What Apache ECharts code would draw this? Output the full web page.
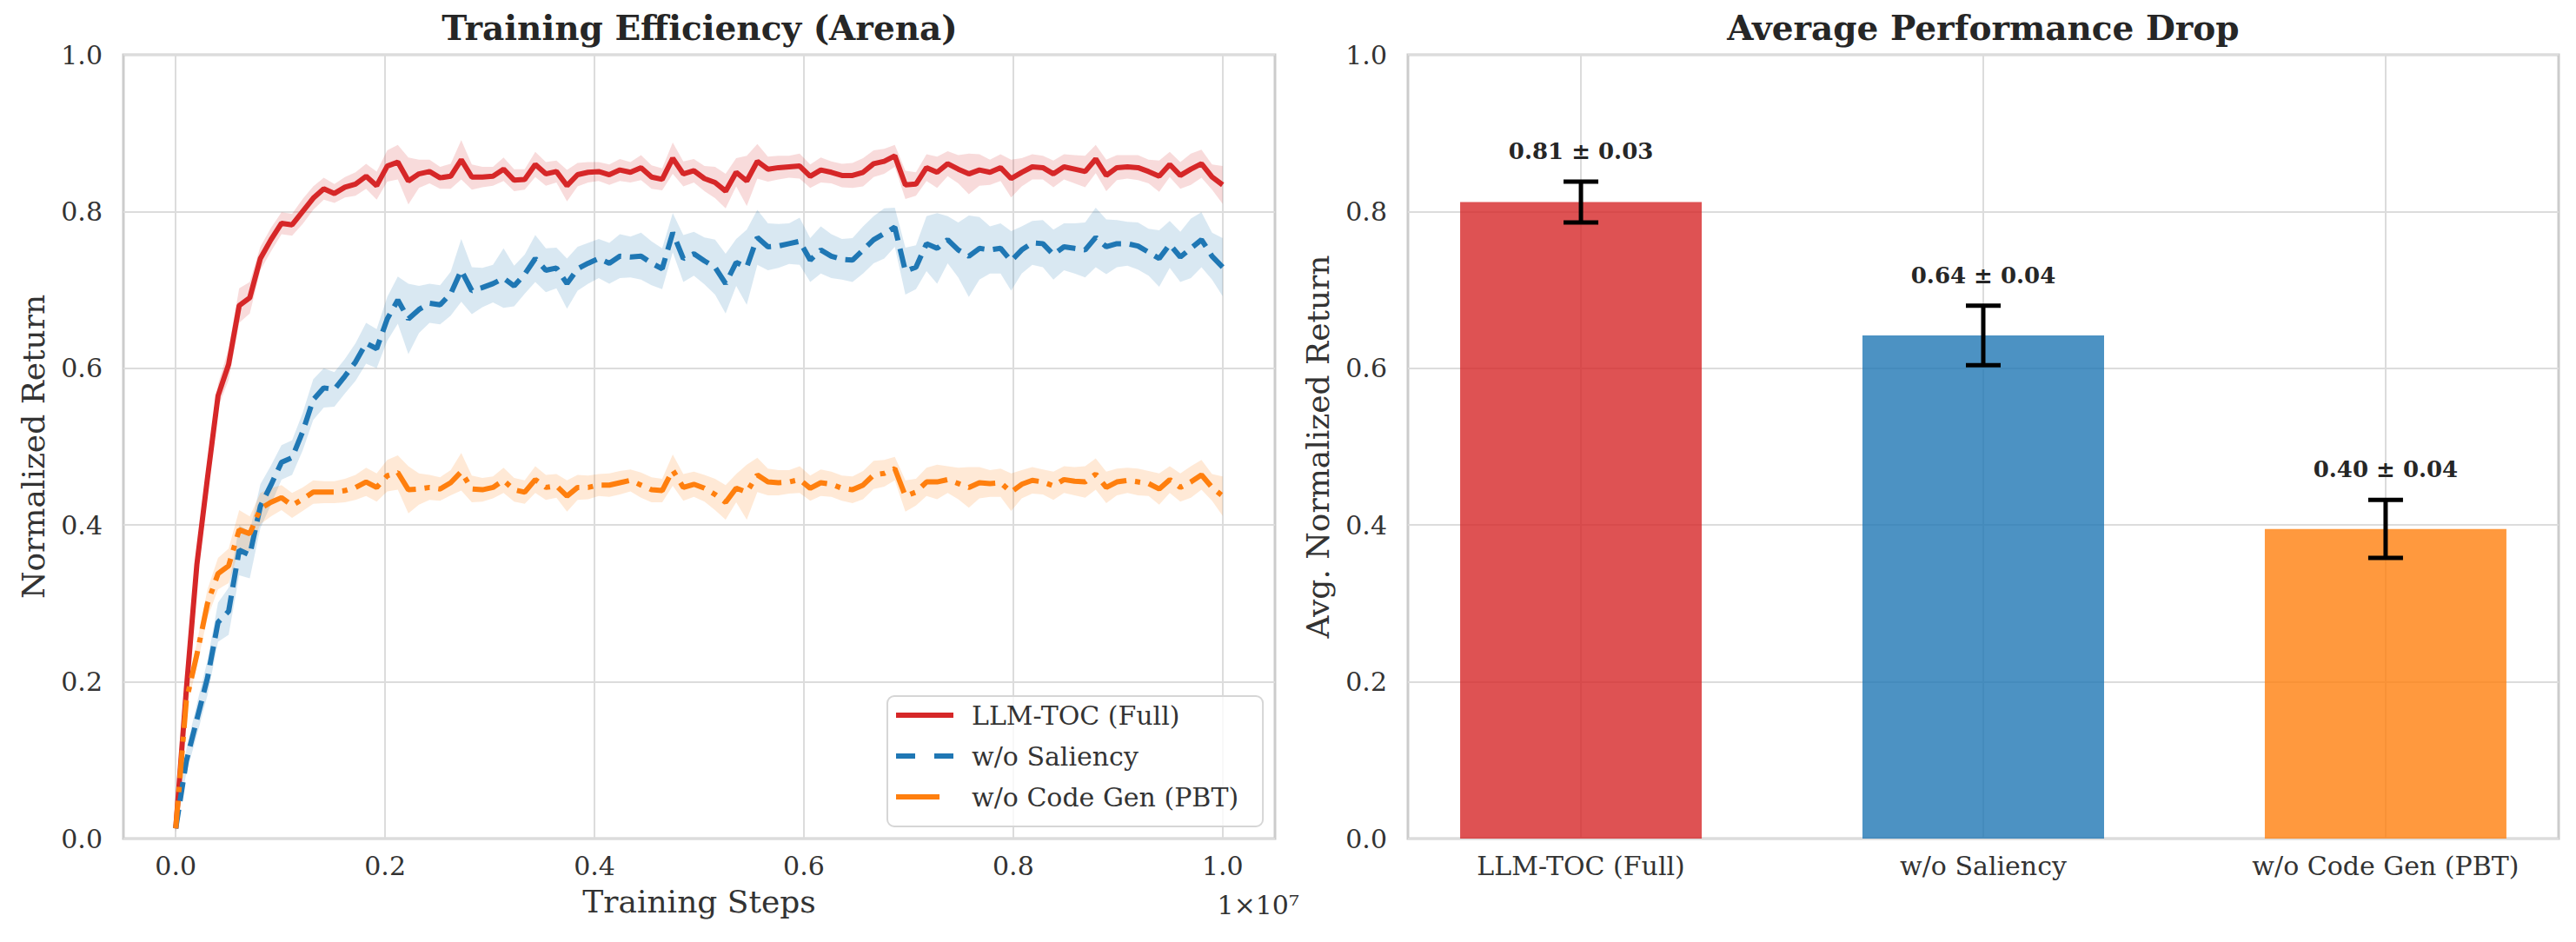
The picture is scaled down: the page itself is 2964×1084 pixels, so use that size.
<!DOCTYPE html>
<html>
<head>
<meta charset="utf-8">
<script src="https://cdn.jsdelivr.net/npm/echarts@6/dist/echarts.min.js"></script>
<style>
  html, body { margin: 0; padding: 0; background: #fff; }
  #chart { width: 2964px; height: 1084px; }
</style>
</head>
<body>
<div id="chart"></div>
<script>
// ---- data ----
var TOTAL_STEPS = 1e7;
var N_POINTS = 100;
var steps = [];
for (var i = 0; i < N_POINTS; i++) steps.push(i * TOTAL_STEPS / (N_POINTS - 1));

var fullMean = [0.013,0.19,0.35,0.46,0.565,0.605,0.68,0.69,0.74,0.764,
  0.785,0.783,0.80,0.817,0.829,0.823,0.831,0.835,0.845,0.833,
  0.858,0.863,0.839,0.848,0.851,0.843,0.845,0.866,0.844,0.844,
  0.845,0.854,0.840,0.841,0.860,0.848,0.851,0.833,0.847,0.850,
  0.851,0.847,0.853,0.850,0.856,0.844,0.841,0.868,0.848,0.852,
  0.842,0.837,0.826,0.850,0.839,0.864,0.854,0.856,0.857,0.858,
  0.845,0.853,0.850,0.846,0.846,0.850,0.861,0.864,0.871,0.834,
  0.835,0.856,0.850,0.861,0.854,0.848,0.853,0.850,0.856,0.842,
  0.850,0.857,0.856,0.848,0.857,0.854,0.851,0.867,0.846,0.856,
  0.857,0.856,0.851,0.845,0.860,0.846,0.854,0.861,0.844,0.834];
var fullStd = [0.005,0.012,0.015,0.015,0.015,0.02,0.022,0.02,0.015,0.015,
  0.014,0.014,0.016,0.015,0.014,0.012,0.013,0.015,0.016,0.018,
  0.02,0.022,0.03,0.018,0.015,0.014,0.016,0.025,0.016,0.013,
  0.012,0.015,0.014,0.013,0.016,0.015,0.014,0.02,0.015,0.013,
  0.012,0.013,0.014,0.013,0.016,0.015,0.014,0.02,0.016,0.015,
  0.016,0.02,0.022,0.018,0.032,0.022,0.016,0.015,0.014,0.016,
  0.015,0.016,0.014,0.015,0.016,0.018,0.017,0.016,0.014,0.018,
  0.015,0.017,0.02,0.016,0.018,0.026,0.02,0.016,0.017,0.024,
  0.018,0.016,0.015,0.017,0.016,0.018,0.02,0.018,0.02,0.016,
  0.015,0.016,0.015,0.02,0.016,0.017,0.02,0.018,0.016,0.024];

var salMean = [0.013,0.099,0.152,0.205,0.276,0.29,0.368,0.362,0.424,0.451,
  0.480,0.486,0.519,0.560,0.575,0.573,0.590,0.608,0.632,0.625,
  0.663,0.687,0.663,0.675,0.683,0.681,0.695,0.725,0.699,0.703,
  0.708,0.715,0.705,0.720,0.740,0.725,0.728,0.708,0.727,0.734,
  0.740,0.734,0.743,0.742,0.743,0.734,0.727,0.773,0.740,0.746,
  0.737,0.729,0.708,0.735,0.729,0.767,0.755,0.756,0.759,0.762,
  0.738,0.751,0.743,0.739,0.738,0.751,0.764,0.772,0.780,0.724,
  0.729,0.759,0.753,0.764,0.751,0.743,0.753,0.751,0.753,0.737,
  0.751,0.760,0.759,0.745,0.755,0.753,0.751,0.767,0.755,0.759,
  0.759,0.756,0.748,0.740,0.758,0.742,0.753,0.764,0.743,0.729];
var salStd = [0.005,0.015,0.02,0.022,0.025,0.03,0.032,0.03,0.028,0.025,
  0.022,0.022,0.024,0.026,0.025,0.022,0.022,0.024,0.026,0.025,
  0.028,0.03,0.045,0.03,0.025,0.025,0.028,0.04,0.03,0.025,
  0.024,0.038,0.026,0.025,0.03,0.028,0.026,0.032,0.028,0.026,
  0.025,0.026,0.028,0.026,0.03,0.028,0.026,0.025,0.03,0.028,
  0.03,0.035,0.038,0.03,0.048,0.035,0.03,0.028,0.026,0.03,
  0.028,0.03,0.028,0.026,0.028,0.03,0.03,0.032,0.025,0.03,
  0.028,0.035,0.045,0.03,0.035,0.052,0.04,0.03,0.032,0.038,
  0.03,0.028,0.03,0.032,0.03,0.032,0.035,0.038,0.035,0.03,
  0.028,0.03,0.03,0.036,0.03,0.032,0.038,0.035,0.03,0.037];

var pbtMean = [0.013,0.176,0.235,0.300,0.338,0.348,0.394,0.389,0.421,0.429,
  0.435,0.425,0.433,0.442,0.442,0.442,0.444,0.448,0.455,0.448,
  0.463,0.467,0.445,0.446,0.448,0.446,0.454,0.468,0.446,0.445,
  0.448,0.457,0.445,0.442,0.458,0.448,0.450,0.437,0.448,0.448,
  0.451,0.451,0.454,0.457,0.451,0.445,0.444,0.470,0.448,0.452,
  0.447,0.439,0.429,0.447,0.442,0.464,0.455,0.454,0.455,0.458,
  0.447,0.454,0.452,0.447,0.445,0.451,0.464,0.466,0.472,0.437,
  0.442,0.455,0.455,0.458,0.453,0.448,0.454,0.453,0.454,0.442,
  0.452,0.457,0.455,0.450,0.458,0.456,0.455,0.465,0.448,0.455,
  0.457,0.455,0.453,0.446,0.458,0.448,0.455,0.464,0.448,0.437];
var pbtStd = [0.005,0.012,0.015,0.018,0.02,0.022,0.025,0.022,0.02,0.018,
  0.016,0.016,0.015,0.015,0.014,0.014,0.015,0.016,0.018,0.018,
  0.02,0.022,0.03,0.02,0.016,0.015,0.016,0.024,0.017,0.015,
  0.014,0.016,0.015,0.015,0.017,0.016,0.015,0.02,0.016,0.015,
  0.014,0.015,0.015,0.014,0.016,0.016,0.015,0.02,0.017,0.016,
  0.017,0.02,0.022,0.018,0.035,0.022,0.017,0.016,0.015,0.017,
  0.016,0.017,0.016,0.016,0.017,0.018,0.018,0.017,0.015,0.02,
  0.017,0.018,0.022,0.017,0.02,0.026,0.02,0.017,0.018,0.024,
  0.018,0.017,0.016,0.018,0.017,0.018,0.02,0.02,0.02,0.017,
  0.016,0.017,0.016,0.02,0.017,0.018,0.02,0.019,0.017,0.025];

var methods = ['LLM-TOC (Full)', 'w/o Saliency', 'w/o Code Gen (PBT)'];
var barMeans = [0.812, 0.642, 0.395];
var barErrs = [0.026, 0.038, 0.037];
var barLabels = ['0.81 ± 0.03', '0.64 ± 0.04', '0.40 ± 0.04'];

var stepTicks = [0, 2e6, 4e6, 6e6, 8e6, 1e7];

// ---- style ----
var RED = '#d62728', BLUE = '#1f77b4', ORANGE = '#ff7f0e';
var FONT = 'DejaVu Serif';
var GRID_LINE = '#dcdcdc';
var FRAME = '#cccccc';

// legend swatches: solid, dashed, dash-dot start (66 x 6 box)
var ICON_SOLID = 'path://M0,0H66V6H0Z';
var ICON_DASH = 'path://M0,0H22V6H0Z M44,0H66V6H44Z';
var ICON_DASHDOT = 'path://M0,0H50V6H0Z M65.9,2.99H66V3H65.9Z';

function pairs(xs, ys) {
  return xs.map(function (x, k) { return [x, ys[k]]; });
}

function bandSeries(name, mean, std, color) {
  var lo = mean.map(function (m, k) { return m - std[k]; });
  var hi = mean.map(function (m, k) { return m + std[k]; });
  return {
    name: name,
    type: 'custom',
    xAxisIndex: 0, yAxisIndex: 0,
    silent: true,
    z: 1,
    data: steps.map(function (s, k) { return [s, lo[k], hi[k]]; }),
    encode: { x: 0, y: [1, 2] },
    renderItem: function (params, api) {
      if (params.dataIndex !== 0) return null;
      var up = [], down = [];
      for (var k = 0; k < steps.length; k++) {
        up.push(api.coord([steps[k], hi[k]]));
        down.push(api.coord([steps[k], lo[k]]));
      }
      return {
        type: 'polygon',
        shape: { points: up.concat(down.reverse()) },
        style: { fill: color, opacity: 0.17 }
      };
    }
  };
}

function lineSeries(name, mean, color, dash) {
  return {
    name: name,
    type: 'line',
    xAxisIndex: 0, yAxisIndex: 0,
    data: pairs(steps, mean),
    symbol: 'none',
    z: 3,
    lineStyle: { color: color, width: 6, type: dash || 'solid', cap: 'butt' },
    itemStyle: { color: color }
  };
}

var chart = echarts.init(document.getElementById('chart'), null, { renderer: 'svg' });

chart.setOption({
  animation: false,
  backgroundColor: '#ffffff',
  textStyle: { fontFamily: FONT },
  title: [
    {
      text: 'Training Efficiency (Arena)',
      left: 805, top: 12, textAlign: 'center', padding: 0,
      textStyle: { fontFamily: FONT, fontSize: 39, fontWeight: 'bold', color: '#262626' }
    },
    {
      text: 'Average Performance Drop',
      left: 2282, top: 12, textAlign: 'center', padding: 0,
      textStyle: { fontFamily: FONT, fontSize: 39, fontWeight: 'bold', color: '#262626' }
    }
  ],
  legend: {
    data: [
      { name: methods[0], icon: ICON_SOLID },
      { name: methods[1], icon: ICON_DASH },
      { name: methods[2], icon: ICON_DASHDOT }
    ],
    orient: 'vertical',
    left: 1021, top: 801,
    itemWidth: 66, itemHeight: 6, itemGap: 13,
    symbolKeepAspect: false,
    padding: [5, 28, 17, 10],
    backgroundColor: 'rgba(255,255,255,0.8)',
    borderColor: '#d6d6d6', borderWidth: 2, borderRadius: 8,
    textStyle: { fontFamily: FONT, fontSize: 30, color: '#333', lineHeight: 34, padding: [0, 0, 0, 16] }
  },
  grid: [
    { left: 142, top: 63, width: 1325, height: 902, show: true, borderColor: FRAME, borderWidth: 3, backgroundColor: '#fff' },
    { left: 1620, top: 63, width: 1324, height: 902, show: true, borderColor: FRAME, borderWidth: 3, backgroundColor: '#fff' }
  ],
  xAxis: [
    {
      type: 'value', gridIndex: 0,
      min: -5e5, max: 1.05e7,
      name: 'Training Steps', nameLocation: 'middle', nameGap: 54,
      nameTextStyle: { fontFamily: FONT, fontSize: 36, color: '#333' },
      axisLine: { show: false },
      axisTick: { show: false, customValues: stepTicks },
      axisLabel: {
        customValues: stepTicks, margin: 16,
        fontFamily: FONT, fontSize: 30, color: '#333',
        formatter: function (v) { return (v / 1e7).toFixed(1); }
      },
      splitLine: { show: true, lineStyle: { color: GRID_LINE, width: 2 } }
    },
    {
      type: 'value', gridIndex: 1,
      min: -0.43, max: 2.43,
      axisLine: { show: false },
      axisTick: { show: false, customValues: [0, 1, 2] },
      axisLabel: {
        customValues: [0, 1, 2], margin: 16,
        fontFamily: FONT, fontSize: 30, color: '#333',
        formatter: function (v) { return methods[Math.round(v)]; }
      },
      splitLine: { show: true, lineStyle: { color: GRID_LINE, width: 2 } }
    }
  ],
  yAxis: [
    {
      type: 'value', gridIndex: 0,
      min: 0, max: 1, interval: 0.2,
      name: 'Normalized Return', nameLocation: 'middle', nameGap: 86,
      nameTextStyle: { fontFamily: FONT, fontSize: 36, color: '#333' },
      axisLine: { show: false }, axisTick: { show: false },
      axisLabel: { margin: 24, fontFamily: FONT, fontSize: 30, color: '#333',
        formatter: function (v) { return v.toFixed(1); } },
      splitLine: { show: true, lineStyle: { color: GRID_LINE, width: 2 } }
    },
    {
      type: 'value', gridIndex: 1,
      min: 0, max: 1, interval: 0.2,
      name: 'Avg. Normalized Return', nameLocation: 'middle', nameGap: 86,
      nameTextStyle: { fontFamily: FONT, fontSize: 36, color: '#333' },
      axisLine: { show: false }, axisTick: { show: false },
      axisLabel: { margin: 24, fontFamily: FONT, fontSize: 30, color: '#333',
        formatter: function (v) { return v.toFixed(1); } },
      splitLine: { show: true, lineStyle: { color: GRID_LINE, width: 2 } }
    }
  ],
  graphic: [
    {
      type: 'text', x: 1495, y: 1041, z: 10,
      style: { text: '1×10⁷', fontFamily: FONT, fontSize: 30, fill: '#333', align: 'right', verticalAlign: 'middle' }
    }
  ],
  series: [
    bandSeries('band-full', fullMean, fullStd, RED),
    bandSeries('band-sal', salMean, salStd, BLUE),
    bandSeries('band-pbt', pbtMean, pbtStd, ORANGE),
    lineSeries(methods[0], fullMean, RED),
    lineSeries(methods[1], salMean, BLUE, [22, 10]),
    lineSeries(methods[2], pbtMean, ORANGE, [32, 10, 6, 10]),
    {
      name: 'bars',
      type: 'bar',
      xAxisIndex: 1, yAxisIndex: 1,
      barWidth: 278,
      z: 2,
      data: barMeans.map(function (m, k) {
        return { value: [k, m], itemStyle: { color: [RED, BLUE, ORANGE][k], opacity: 0.8 } };
      })
    },
    {
      name: 'errors',
      type: 'custom',
      xAxisIndex: 1, yAxisIndex: 1,
      z: 5,
      data: barMeans.map(function (m, k) { return [k, m, barErrs[k]]; }),
      renderItem: function (params, api) {
        var x = api.value(0), m = api.value(1), e = api.value(2);
        var top = api.coord([x, m + e]);
        var bot = api.coord([x, m - e]);
        var half = 20;
        var stroke = { stroke: '#000', lineWidth: 5 };
        return {
          type: 'group',
          children: [
            { type: 'line', shape: { x1: top[0], y1: top[1], x2: bot[0], y2: bot[1] }, style: stroke },
            { type: 'line', shape: { x1: top[0] - half, y1: top[1], x2: top[0] + half, y2: top[1] }, style: stroke },
            { type: 'line', shape: { x1: bot[0] - half, y1: bot[1], x2: bot[0] + half, y2: bot[1] }, style: stroke },
            {
              type: 'text',
              x: top[0], y: top[1] - 22,
              style: {
                text: barLabels[params.dataIndex],
                fontFamily: FONT, fontSize: 26, fontWeight: 'bold', fill: '#262626',
                align: 'center', verticalAlign: 'bottom'
              }
            }
          ]
        };
      }
    }
  ]
});
</script>
</body>
</html>
